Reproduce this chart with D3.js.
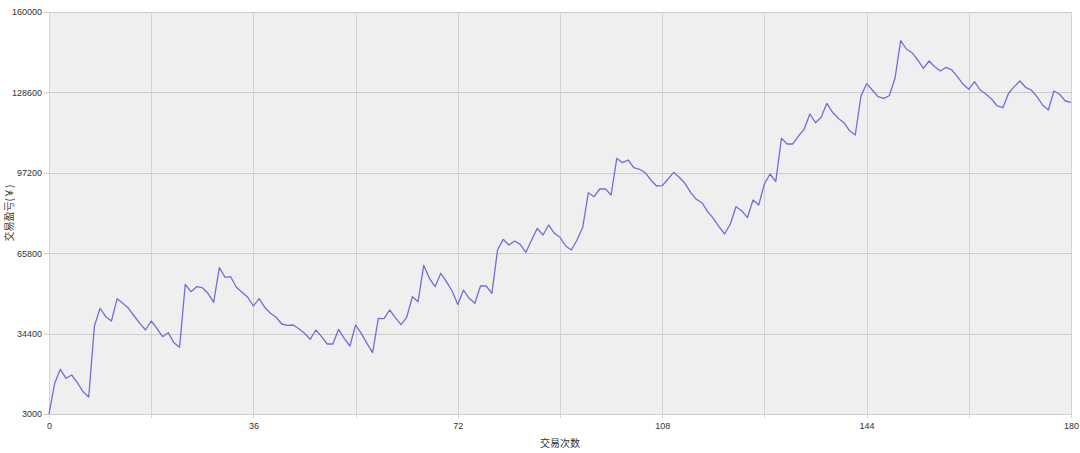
<!DOCTYPE html>
<html>
<head>
<meta charset="utf-8">
<script src="https://cdn.jsdelivr.net/npm/d3@7"></script>
<style>
  html, body { margin: 0; padding: 0; background: #ffffff; }
  svg { display: block; font-family: "Noto Sans CJK SC", "Liberation Sans", Arial, sans-serif; }
</style>
</head>
<body>
<svg id="chart" width="1080" height="453"></svg>
<script>
// ---- data ----
const yTicks = [3000, 34400, 65800, 97200, 128600, 160000];
const xLabelTicks = [0, 36, 72, 108, 144, 180];
const xGridTicks = [0, 18, 36, 54, 72, 90, 108, 126, 144, 162, 180];
const xTitle = "交易次数";
const yTitle = "交易盈亏(￥)";
const pnl = [
  3000, 15000, 20460, 16940, 18230, 15230, 11700, 9640, 37370, 44280,
  41000, 39320, 48030, 46230, 44280, 41270, 38420, 35800, 39320, 36470,
  33190, 34760, 30850, 29050, 53650, 50770, 52720, 52330, 50140, 46620,
  60140, 56390, 56620, 52480, 50530, 48580, 45180, 48030, 44670, 42330,
  40770, 38150, 37640, 37760, 36310, 34510, 32170, 35800, 33190, 30340,
  30340, 36080, 32560, 29560, 37760, 34510, 30610, 26940, 40380, 40220,
  43620, 40610, 37880, 40770, 48810, 46860, 61070, 56000, 52720, 57960,
  54670, 51040, 45770, 51430, 48180, 46230, 52990, 52990, 50140, 67050,
  71220, 69000, 70560, 69270, 66150, 70960, 75520, 72910, 76820, 73570,
  72010, 68610, 67050, 70960, 75910, 89430, 87870, 90870, 90870, 88530,
  102850, 101150, 102200, 99200, 98570, 97240, 94390, 92050, 92160, 94660,
  97390, 95440, 93100, 89580, 86850, 85520, 82010, 79430, 76150, 73300,
  77210, 83970, 82410, 79670, 86580, 84620, 92830, 96730, 93730, 110670,
  108450, 108450, 111570, 114190, 120170, 116770, 118870, 124340, 120830, 118480,
  116770, 113650, 111960, 127060, 132020, 129540, 126930, 126280, 127300, 134110,
  148810, 145550, 144110, 141260, 138010, 140870, 138640, 136960, 138400, 137350,
  134730, 131750, 129800, 132780, 129540, 127980, 126020, 123290, 122620, 128250,
  130840, 133050, 130590, 129540, 126930, 123680, 121730, 129150, 127860, 125240,
  124730
];

// ---- layout ----
const W = 1080, H = 453;
const m = { left: 49, right: 9, top: 12, bottom: 39 };
const iw = W - m.left - m.right, ih = H - m.top - m.bottom;

const svg = d3.select("#chart");
const g = svg.append("g").attr("transform", `translate(${m.left},${m.top})`);

const x = d3.scaleLinear().domain([0, 180]).range([0, iw]);
const y = d3.scaleLinear().domain([3000, 160000]).range([ih, 0]);

// plot background
g.append("rect").attr("x", 0).attr("y", 0).attr("width", iw).attr("height", ih)
  .attr("fill", "#efefef");

// horizontal grid + y-axis ticks
const yAxis = d3.axisLeft(y).tickValues(yTicks).tickSize(5).tickPadding(2)
  .tickFormat(d3.format("d"));
const ya = g.append("g").call(yAxis);
ya.select(".domain").remove();
ya.selectAll(".tick line").attr("stroke", "#c8c8c8");
ya.selectAll(".tick text").attr("fill", "#333").style("font-size", "9px")
  .style("font-family", "'Liberation Sans', Arial, sans-serif");

g.append("g").selectAll("line.hg").data(yTicks).join("line")
  .attr("x1", 0).attr("x2", iw)
  .attr("y1", d => Math.round(y(d)) + 0.5).attr("y2", d => Math.round(y(d)) + 0.5)
  .attr("stroke", "#cccccc").attr("stroke-width", 1);

// vertical grid
g.append("g").selectAll("line.vg").data(xGridTicks).join("line")
  .attr("x1", d => Math.round(x(d)) + 0.5).attr("x2", d => Math.round(x(d)) + 0.5)
  .attr("y1", 0).attr("y2", ih + 4)
  .attr("stroke", "#d2d2d2").attr("stroke-width", 1);

// x-axis labels
const xAxis = d3.axisBottom(x).tickValues(xLabelTicks).tickSize(0).tickPadding(9)
  .tickFormat(d3.format("d"));
const xa = g.append("g").attr("transform", `translate(0,${ih})`).call(xAxis);
xa.select(".domain").remove();
xa.selectAll(".tick text").attr("fill", "#333").style("font-size", "9px")
  .style("font-family", "'Liberation Sans', Arial, sans-serif");

// line
const line = d3.line().x((d, i) => x(i)).y(d => y(d));
g.append("path").datum(pnl).attr("d", line)
  .attr("fill", "none").attr("stroke", "#6f6fd8").attr("stroke-width", 1.3)
  .attr("stroke-linejoin", "round");

// axis titles
svg.append("text").attr("x", 560).attr("y", 447).attr("text-anchor", "middle")
  .attr("fill", "#333").style("font-size", "10px").text(xTitle);
svg.append("text").attr("transform", "translate(13,213) rotate(-90)")
  .attr("text-anchor", "middle").attr("fill", "#333").style("font-size", "10px").text(yTitle);
</script>
</body>
</html>
